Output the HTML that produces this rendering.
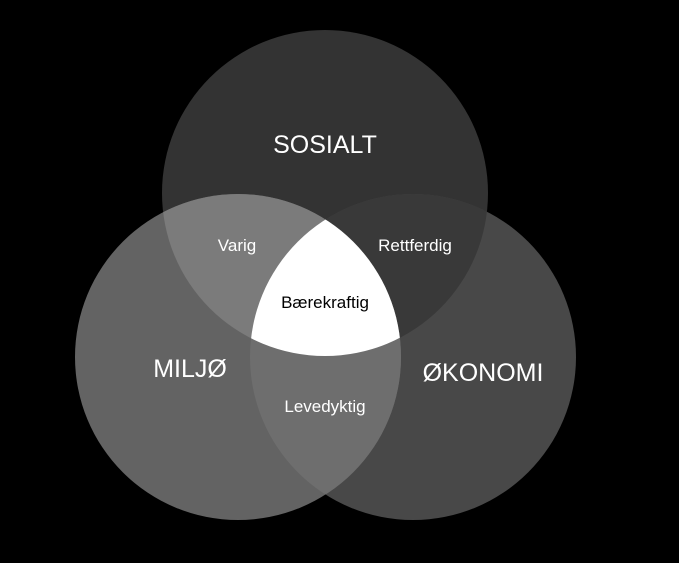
<!DOCTYPE html>
<html><head><style>html,body{margin:0;padding:0;background:#000;}svg{display:block}</style></head>
<body>
<svg width="679" height="563" viewBox="0 0 679 563" xmlns="http://www.w3.org/2000/svg">
<defs>
<clipPath id="cT"><circle cx="325" cy="193" r="163"/></clipPath>
<clipPath id="cL"><circle cx="238" cy="357" r="163"/></clipPath>
<clipPath id="cR"><circle cx="413" cy="357" r="163"/></clipPath>
</defs>
<rect width="679" height="563" fill="#000"/>
<circle cx="325" cy="193" r="163" fill="#333"/>
<circle cx="413" cy="357" r="163" fill="#484848"/>
<circle cx="238" cy="357" r="163" fill="#636363"/>
<g clip-path="url(#cT)"><circle cx="413" cy="357" r="163" fill="#393939"/></g>
<g clip-path="url(#cT)"><circle cx="238" cy="357" r="163" fill="#7b7b7b"/></g>
<g clip-path="url(#cR)"><circle cx="238" cy="357" r="163" fill="#6e6e6e"/></g>
<g clip-path="url(#cT)"><g clip-path="url(#cR)"><circle cx="238" cy="357" r="163" fill="#fff"/></g></g>
<g font-family="Liberation Sans, sans-serif" text-anchor="middle" fill="#fff">
<text x="325" y="153" font-size="25">SOSIALT</text>
<text x="190" y="377" font-size="25">MILJØ</text>
<text x="483" y="381" font-size="25">ØKONOMI</text>
<text x="237" y="251" font-size="17">Varig</text>
<text x="415" y="251" font-size="17">Rettferdig</text>
<text x="325" y="412" font-size="17">Levedyktig</text>
<text x="325" y="308" font-size="17" fill="#000">Bærekraftig</text>
</g>
</svg>
</body></html>
